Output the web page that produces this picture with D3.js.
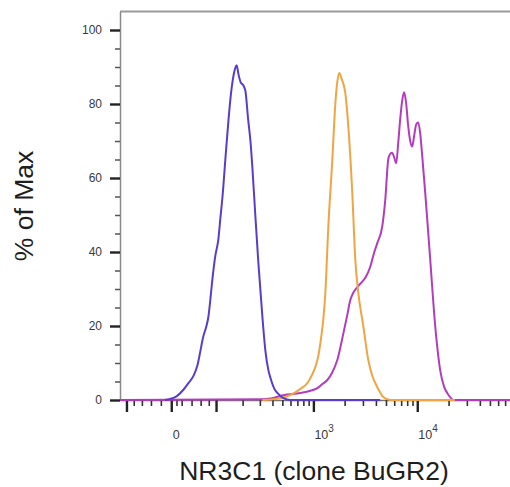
<!DOCTYPE html>
<html>
<head>
<meta charset="utf-8">
<script src="https://cdn.jsdelivr.net/npm/d3@7"></script>
<style>
html, body { margin: 0; padding: 0; background: #fff; }
svg { display: block; font-family: "Liberation Sans", Arial, sans-serif; }
</style>
</head>
<body>
<svg id="chart" width="510" height="487"></svg>
<script>
// Histogram data: fluorescence intensity and % of max for each sample.
let blueX = [-12, -2, 10, 23, 33, 44, 53, 59, 66, 74, 79, 84, 89, 98, 107, 113, 120, 130, 141, 152,
    164, 173, 181, 190, 204, 214, 228, 241, 252, 270, 290, 318, 340, 365, 382, 418, 447, 512, 600, 4400];
let blueY = [0, 0.3, 1, 2.7, 4.5, 6.5, 9.5, 13, 17, 20, 22.5, 27, 32, 39, 43.5, 49, 55, 65.5, 76, 84,
    89, 90.5, 88, 86, 85, 83.5, 76, 70, 63, 50, 37, 22.5, 13.5, 8, 6, 3, 1.9, 0.5, 0, 0];

let orangeX = [318, 428, 536, 655, 749, 875, 978, 1046, 1117, 1168, 1248, 1304, 1394, 1523, 1627, 1700,
    1778, 1859, 2030, 2170, 2370, 2533, 2707, 3025, 3380, 3696, 3944, 4405, 4710, 5500, 23000];
let orangeY = [0, 0.3, 0.8, 1.9, 3, 4.6, 7, 9, 12, 15.4, 22, 29, 47, 65, 80, 86,
    88.4, 87, 83, 74, 56, 38, 29, 20, 10.8, 6.5, 4.6, 2, 0.8, 0, 0];

let magentaX = [-120, 318, 382, 512, 749, 936, 1093, 1220, 1363, 1523, 1700, 1945, 2122, 2268, 2424, 2648,
    2959, 3161, 3530, 3862, 4123, 4609, 4920, 5257, 5496, 5745, 6005, 6277, 6560, 6856, 7166, 7490,
    7830, 8185, 8555, 8942, 9347, 9770, 10210, 10680, 11160, 11930, 13320, 14880, 15910, 16620, 18170,
    19420, 20740, 22160, 78000];
let magentaY = [0, 0.2, 0.4, 1.3, 1.9, 2.5, 3.2, 4.3, 5.4, 7.5, 10.8, 18, 23, 27, 29, 30.5,
    32, 33, 36, 40, 42.4, 47, 54, 65, 66.5, 66.8, 65.5, 64, 69.5, 76, 81, 83.2,
    80, 74, 70, 68.5, 71.5, 74.5, 75, 72, 66, 56, 38, 20, 12, 8, 3.5,
    1.9, 0.8, 0, 0];

// Axis ticks and labels.
let yMajorTicks = [0, 20, 40, 60, 80, 100];
let yMinorTicks = [5, 10, 15, 25, 30, 35, 45, 50, 55, 65, 70, 75, 85, 90, 95];
let xMajorTicks = [-100, 0, 100, 1000, 10000];
let xLabelTicks = [0, 1000, 10000];
let xLabelText = [["0", ""], ["10", "3"], ["10", "4"]];
let xMinorTicks = [-80, -60, -40, -20, 10, 20, 40, 60, 80,
    200, 300, 400, 500, 600, 700, 800, 900,
    2000, 3000, 4000, 5000, 6000, 7000, 8000, 9000,
    20000, 30000, 40000, 50000, 60000, 70000];

let xTitle = "NR3C1 (clone BuGR2)";
let yTitle = "% of Max";

let cofactor = 86;
let xMin = -120, xMax = 78000;
let yMax = 105;

let svg = d3.select("#chart");

function t(v) {
    return Math.asinh(v / cofactor);
}

let xT = d3.scaleLinear().domain([t(xMin), t(xMax)]).range([120, 510]);
let x = v => xT(t(v));
let y = d3.scaleLinear().domain([0, yMax]).range([400, 11.5]);

// Frame top line
svg.append("line")
    .attr("x1", 120).attr("x2", 510)
    .attr("y1", y(yMax)).attr("y2", y(yMax))
    .attr("stroke", "#9a9a9a")
    .attr("stroke-width", 2);

// X axis
let xAxisG = svg.append("g").attr("transform", `translate(0,${y(0)})`);
xAxisG.append("g")
    .call(d3.axisBottom(xT).tickValues(xMinorTicks.map(t)).tickSize(6).tickSizeOuter(0).tickFormat(""))
    .call(g => g.select(".domain").attr("stroke", "#777").attr("stroke-width", 1.5))
    .call(g => g.selectAll(".tick line").attr("stroke", "#333").attr("stroke-width", 1.6));
xAxisG.append("g")
    .call(d3.axisBottom(xT).tickValues(xMajorTicks.map(t)).tickSize(12).tickSizeOuter(0).tickFormat(""))
    .call(g => g.select(".domain").remove())
    .call(g => g.selectAll(".tick line").attr("stroke", "#222").attr("stroke-width", 2.4));

// X tick labels (0, 10^3, 10^4)
xLabelTicks.forEach((v, i) => {
    let base = xLabelText[i][0], sup = xLabelText[i][1];
    let txt = svg.append("text")
        .attr("y", 439)
        .attr("fill", "#3a3a3a")
        .attr("font-size", 12.5);
    if (sup === "") {
        txt.attr("x", x(v) + 5).attr("text-anchor", "middle").text(base);
    } else {
        txt.attr("x", x(v) + 1).attr("text-anchor", "start");
        txt.append("tspan").text(base);
        txt.append("tspan").attr("font-size", 10).attr("dy", -7).text(sup);
    }
});

// Y axis
let yAxisG = svg.append("g").attr("transform", "translate(120,0)");
yAxisG.append("g")
    .call(d3.axisLeft(y).tickValues(yMinorTicks).tickSize(5).tickSizeOuter(0).tickFormat(""))
    .call(g => g.select(".domain").attr("stroke", "#8a8a8a").attr("stroke-width", 1.5))
    .call(g => g.selectAll(".tick line").attr("stroke", "#555").attr("stroke-width", 1.5));
yAxisG.append("g")
    .call(d3.axisLeft(y).tickValues(yMajorTicks).tickSize(10).tickPadding(8).tickSizeOuter(0))
    .call(g => g.select(".domain").remove())
    .call(g => g.selectAll(".tick line").attr("stroke", "#222").attr("stroke-width", 2.4))
    .call(g => g.selectAll(".tick text")
        .attr("fill", "#3a3a3a")
        .attr("font-size", 12)
        .attr("font-family", "'Liberation Sans', Arial, sans-serif"));

// Curves
let series = [
    { xs: magentaX, ys: magentaY, color: "#b23cbd" },
    { xs: orangeX, ys: orangeY, color: "#f0a443" },
    { xs: blueX, ys: blueY, color: "#5a3ccc" }
];

let line = d3.line()
    .x(d => x(d[0]))
    .y(d => y(d[1]))
    .curve(d3.curveMonotoneX);

svg.append("defs").append("clipPath").attr("id", "plot-clip")
    .append("rect").attr("x", 120).attr("y", 0).attr("width", 390).attr("height", 402);

svg.append("g")
    .attr("clip-path", "url(#plot-clip)")
    .selectAll("path")
    .data(series)
    .enter()
    .append("path")
    .attr("fill", "none")
    .attr("stroke", d => d.color)
    .attr("stroke-width", 2)
    .attr("stroke-linejoin", "round")
    .attr("d", d => line(d.xs.map((v, i) => [v, d.ys[i]])));

// Axis titles
svg.append("text")
    .attr("x", 314)
    .attr("y", 480)
    .attr("text-anchor", "middle")
    .attr("font-size", 26.5)
    .attr("fill", "#1e1e1e")
    .text(xTitle);

svg.append("text")
    .attr("transform", "translate(33,206) rotate(-90)")
    .attr("text-anchor", "middle")
    .attr("font-size", 26.5)
    .attr("fill", "#1e1e1e")
    .text(yTitle);
</script>
</body>
</html>
